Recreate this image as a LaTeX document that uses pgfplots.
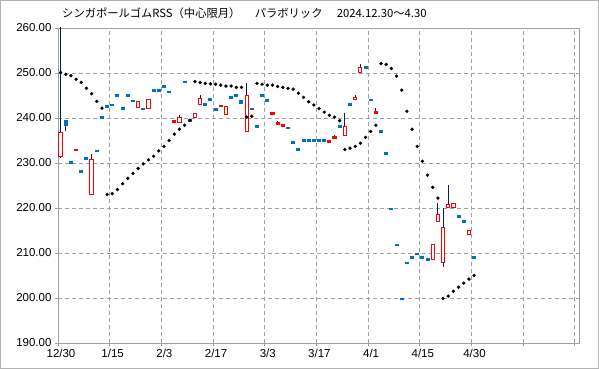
\documentclass[border=0pt]{standalone}
\usepackage{fontspec}
\setmainfont{Liberation Sans}
\newfontfamily\cjk{Noto Sans CJK JP}
\usepackage{pgfplots}
\pgfplotsset{compat=1.18}
\usepackage{pgfplotstable}
\definecolor{xlblue}{HTML}{0070C0}
\definecolor{navy}{HTML}{002060}
\definecolor{xlred}{HTML}{FF0000}

\pgfplotstableread{
i o c
0 231.4 236.8
3 232.9 232.9
6 223.0 230.7
15 242.4 243.6
17 242.2 244.2
22 239.3 239.3
23 239.0 240.1
26 240.2 241.0
27 243.0 244.4
31 242.7 242.7
32 240.8 242.6
36 237.0 245.0
41 241.0 241.0
42 238.8 238.8
43 238.3 238.3
52 234.7 234.7
53 235.6 235.6
55 236.1 238.2
57 244.1 244.6
58 250.1 251.3
61 241.2 241.2
72 208.6 211.9
73 217.0 218.6
74 207.9 215.7
75 220.2 220.8
76 220.2 221.0
79 214.2 215.0
}\uptab

\pgfplotstableread{
i m e
1 238.95 0.65
2 230.1 0.28
4 228.1 0.28
5 231.0 0.28
7 232.7 0.28
8 240.1 0.28
9 242.5 0.28
10 242.9 0.28
11 245.0 0.28
12 242.1 0.28
13 245.0 0.28
14 243.8 0.28
16 242.0 0.28
18 246.1 0.28
19 246.1 0.28
20 247.0 0.28
21 245.8 0.28
24 248.0 0.28
25 239.5 0.28
28 243.0 0.28
29 244.1 0.28
30 241.9 0.28
33 244.5 0.28
34 245.0 0.28
35 243.6 0.40
37 242.0 0.28
38 238.1 0.28
39 245.0 0.28
40 243.9 0.28
44 237.8 0.28
45 234.5 0.28
46 233.0 0.28
47 235.0 0.28
48 235.0 0.28
49 235.0 0.28
50 235.0 0.28
51 235.0 0.28
54 238.1 0.28
56 243.0 0.28
59 251.2 0.28
60 244.0 0.28
62 237.0 0.28
63 232.1 0.28
64 219.8 0.28
65 211.8 0.28
66 199.8 0.28
67 207.8 0.28
68 209.0 0.28
69 209.8 0.28
70 209.0 0.28
71 208.5 0.28
77 218.1 0.28
78 217.0 0.28
80 209.0 0.28
}\downtab

\pgfplotstableread{
i l h
0 231.0 265.0
1 237.0 239.6
6 223.0 231.9
15 242.2 243.6
20 246.6 247.0
23 239.0 240.7
27 243.0 245.1
36 237.0 247.7
42 238.8 239.3
52 234.7 235.2
53 235.6 236.3
55 236.1 241.0
57 244.1 245.2
58 250.1 252.1
61 241.2 242.3
73 217.0 221.0
74 206.9 220.1
75 220.2 225.1
}\wicktab

\pgfplotstableread{
i v
0 250.1
1 249.7
2 249.4
3 248.6
4 247.9
5 246.6
6 245.4
7 243.7
8 242.2
9 223.0
10 223.2
11 224.1
12 225.4
13 226.6
14 227.7
15 228.8
16 229.8
17 230.7
18 231.5
19 232.7
20 233.7
21 235.0
22 236.4
23 237.5
24 238.4
25 239.5
26 248.1
27 247.9
28 247.7
29 247.6
30 247.5
31 247.3
32 247.1
33 247.1
34 246.8
35 246.8
36 240.2
37 240.4
38 247.7
39 247.5
40 247.3
41 247.3
42 247.0
43 246.8
44 246.6
45 246.4
46 245.5
47 244.6
48 243.6
49 242.9
50 242.1
51 241.3
52 240.6
53 240.2
54 239.4
55 233.0
56 233.3
57 233.7
58 234.4
59 235.7
60 237.0
61 238.4
62 252.1
63 251.9
64 251.0
65 249.3
66 246.2
67 241.5
68 237.5
69 233.7
70 230.4
71 227.3
72 224.6
73 222.2
74 199.9
75 200.4
76 201.5
77 202.4
78 203.3
79 204.2
80 205.0
}\sartab

\begin{document}
\begin{tikzpicture}
\draw[gray!60, line width=0.8pt] (0.4pt,0.4pt) rectangle (598.6pt,368.6pt);
\node[anchor=west, inner sep=0pt, font=\cjk\fontsize{11.3}{13}\selectfont] at (62pt,355.5pt)
  {シンガポールゴムRSS（中心限月）\hspace{3pt}　パラボリック\hspace{3pt}　2024.12.30～4.30};
\begin{axis}[
  at={(58pt,26pt)}, anchor=south west,
  scale only axis, width=521pt, height=315pt,
  xmin=0, xmax=100.8, ymin=190, ymax=260,
  xtick={0,10,...,100},
  xticklabels={12/30,1/15,2/3,2/17,3/3,3/17,4/1,4/15,4/30,,},
  ytick={190,200,...,260},
  /pgf/number format/assume math mode=true,
  yticklabel style={/pgf/number format/fixed, /pgf/number format/fixed zerofill, /pgf/number format/precision=2},
  xticklabel style={xshift=3pt},
  tick label style={font=\fontsize{11.5}{13}\selectfont, text=black},
  grid=major,
  major grid style={gray!75, dash pattern=on 4pt off 3pt, line width=0.75pt},
  axis line style={gray!75, line width=0.8pt},
  tick style={gray!75, line width=0.8pt},
  tick align=outside, major tick length=3pt,
  xtick pos=left, ytick pos=left,
]
% wicks
\addplot[draw=none, mark=none, error bars/.cd, y dir=plus, y explicit, error mark=none,
  error bar style={draw=navy, solid, line width=0.9pt}]
  table[x expr=\thisrow{i}+0.5, y=l, y error expr=\thisrow{h}-\thisrow{l}] \wicktab;
% down bodies
\addplot[draw=none, mark=none, error bars/.cd, y dir=both, y explicit, error mark=none,
  error bar style={draw=xlblue, solid, line width=4pt}]
  table[x expr=\thisrow{i}+0.5, y=m, y error=e] \downtab;
% up bodies (outline)
\addplot[draw=none, mark=none, error bars/.cd, y dir=both, y explicit, error mark=none,
  error bar style={draw=xlred, solid, line width=4.2pt}]
  table[x expr=\thisrow{i}+0.5, y expr=(\thisrow{o}+\thisrow{c})/2,
        y error expr={max(abs(\thisrow{c}-\thisrow{o})/2+0.111,0.3)}] \uptab;
% up bodies (hollow)
\addplot[draw=none, mark=none, error bars/.cd, y dir=both, y explicit, error mark=none,
  error bar style={draw=white, solid, line width=2.2pt}]
  table[x expr=\thisrow{i}+0.5, y expr=(\thisrow{o}+\thisrow{c})/2,
        y error expr={max(abs(\thisrow{c}-\thisrow{o})/2-0.111,0)}] \uptab;
% parabolic SAR
\addplot[only marks, mark=*, mark size=1.5pt, black] table[x expr=\thisrow{i}+0.5, y=v] \sartab;
\end{axis}
\end{tikzpicture}
\end{document}
